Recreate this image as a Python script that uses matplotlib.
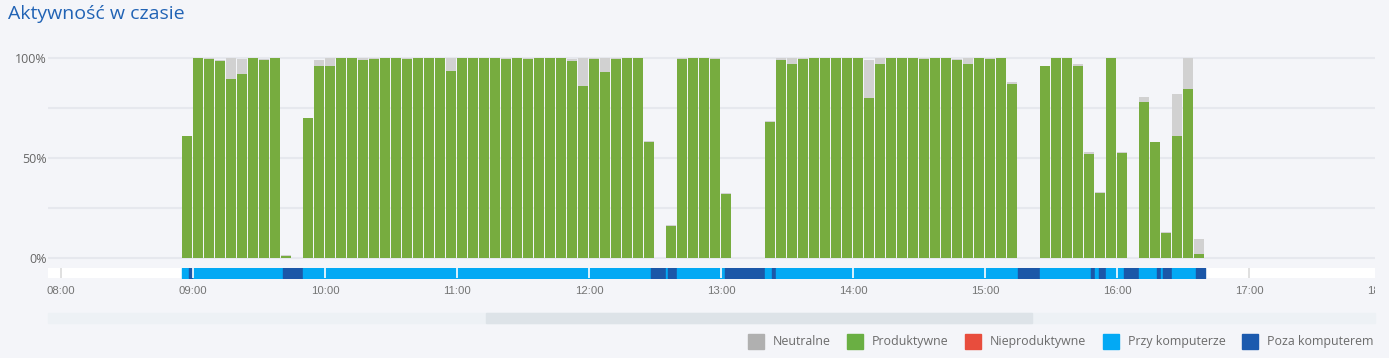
import numpy as np
import matplotlib.pyplot as plt
from matplotlib.patches import Rectangle
from matplotlib.transforms import Bbox, TransformedBbox

# --- data ---
first_bin = "08:55"
bin_minutes = 5
productive = [61, 100, 99.5, 98.5, 89.5, 92, 100, 99, 100, 1,
              0, 70, 96, 96, 100, 100, 99, 99.5, 100, 100,
              99.5, 100, 100, 100, 93.5, 100, 100, 100, 100, 99.5,
              100, 99.5, 100, 100, 100, 98.5, 86, 99.5, 93, 99.5,
              100, 100, 58, 0, 16, 99.5, 100, 100, 99.5, 32,
              0, 0, 0, 68, 99, 97, 99.5, 100, 100, 100,
              100, 100, 80, 97, 100, 100, 100, 99.5, 100, 100,
              99, 97, 100, 99.5, 100, 87, 0, 0, 96, 100,
              100, 96, 52, 32.5, 100, 52.5, 0, 78, 58, 12.7,
              61, 84.5, 2]
neutral = [0, 0, 0.5, 0.5, 10.5, 7.5, 0, 0.5, 0, 0.5,
           0, 0, 3, 4, 0, 0, 1, 0.5, 0, 0,
           0.5, 0, 0, 0, 6.5, 0, 0, 0, 0, 0.5,
           0, 0.5, 0, 0, 0, 1, 14, 0.5, 7, 0.5,
           0, 0, 0.7, 0, 0.5, 0.5, 0, 0, 0.5, 0.5,
           0, 0, 0, 0.5, 1, 3, 0.5, 0, 0, 0,
           0, 0, 19, 3, 0, 0, 0, 0.5, 0, 0,
           0.5, 3, 0, 0.5, 0, 1, 0, 0, 0, 0,
           0, 1, 1, 0.5, 0, 0.5, 0, 2.5, 0, 0.5,
           21, 15.5, 7.5]

# presence at the computer: (from, to, state)
presence = [("08:55", "08:58", "in"), ("08:58", "09:00", "out"),
            ("09:00", "09:41", "in"), ("09:41", "09:50", "out"),
            ("09:50", "12:28", "in"), ("12:28", "12:35", "out"),
            ("12:35", "12:36", "in"), ("12:36", "12:40", "out"),
            ("12:40", "13:02", "in"), ("13:02", "13:20", "out"),
            ("13:20", "13:23", "in"), ("13:23", "13:25", "out"),
            ("13:25", "15:15", "in"), ("15:15", "15:25", "out"),
            ("15:25", "15:48", "in"), ("15:48", "15:50", "out"),
            ("15:50", "15:52", "in"), ("15:52", "15:55", "out"),
            ("15:55", "16:03", "in"), ("16:03", "16:10", "out"),
            ("16:10", "16:18", "in"), ("16:18", "16:20", "out"),
            ("16:20", "16:21", "in"), ("16:21", "16:25", "out"),
            ("16:25", "16:36", "in"), ("16:36", "16:40", "out")]

hour_labels = ["08:00", "09:00", "10:00", "11:00", "12:00",
               "13:00", "14:00", "15:00", "16:00", "17:00", "18:00"]
y_labels = ["0%", "50%", "100%"]
legend_labels = ["Neutralne", "Produktywne", "Nieproduktywne",
                 "Przy komputerze", "Poza komputerem"]
legend_colors = ["#B0B0B0", "#6AAF43", "#E84D3D", "#03A9F4", "#1B5AAE"]

GREEN = "#77AC3F"
GRAY = "#D1D1D1"
LIGHT = "#03A9F4"
DARK = "#1B57A8"
BG = "#F4F5F9"

def to_min(s):
    h, m = s.split(":")
    return (int(h) - 8) * 60 + int(m)

W, H = 1389, 358
X0, X1 = -5.91, 597.3   # visible time range (minutes after 08:00)

fig = plt.figure(figsize=(W / 100, H / 100), dpi=100, facecolor=BG)

def fpos(l, t, r, b):
    return [l / W, 1 - b / H, (r - l) / W, (b - t) / H]

# --- main bar chart ---
ax = fig.add_axes(fpos(48, 56, 1375, 260))
ax.set_facecolor(BG)
starts = to_min(first_bin) + bin_minutes * np.arange(len(productive))
w = bin_minutes * 10 / 11
prod = np.array(productive)
neut = np.array(neutral)
ax.bar(starts, prod, width=w, align="edge", color=GREEN, zorder=3)
ax.bar(starts, neut, width=w, bottom=prod, align="edge", color=GRAY, zorder=3)
ax.set_xlim(X0, X1)
ax.set_ylim(-1, 101)
for g in [0, 25, 50, 75, 100]:
    ax.axhline(g, color="#E6E8EE", lw=1.5, zorder=1)
ax.set_xticks([])
ax.set_yticks([0, 50, 100])
ax.set_yticklabels(y_labels, fontsize=9, color="#666666", family="Open Sans")
ax.tick_params(axis="y", length=0, pad=1)
for s in ax.spines.values():
    s.set_visible(False)

# --- presence strip ---
sx = fig.add_axes(fpos(48, 268, 1375, 278))
sx.set_facecolor("white")
sx.set_xlim(X0, X1)
sx.set_ylim(0, 1)
for a, b, st in presence:
    sx.broken_barh([(to_min(a), to_min(b) - to_min(a))], (0, 1),
                   color=LIGHT if st == "in" else DARK, zorder=2)
for i, lab in enumerate(hour_labels):
    m = to_min(lab)
    inside = to_min(presence[0][0]) < m < to_min(presence[-1][1])
    sx.axvline(m, color="white" if inside else "#DADADA", lw=1.2, zorder=3)
sx.set_xticks([])
sx.set_yticks([])
for s in sx.spines.values():
    s.set_visible(False)

# last hour label is cut by the chart's right edge, as in the source
clip = TransformedBbox(Bbox([[0, 0], [1375 / W, 1]]), fig.transFigure)
for lab in hour_labels:
    t = sx.text(to_min(lab), -1.25, lab, ha="center", va="center",
                fontsize=8.2, color="#747474", family="Liberation Sans",
                clip_on=True)
    t.set_clip_box(clip)

# --- scrollbar ---
fig.patches.append(Rectangle((48 / W, 1 - 323 / H), (1375 - 48) / W, 10 / H,
                             transform=fig.transFigure, color="#EDF1F5"))
fig.patches.append(Rectangle((486 / W, 1 - 323 / H), (1032 - 486) / W, 10 / H,
                             transform=fig.transFigure, color="#DDE3E8"))

# --- legend ---
leg_x = [748, 847, 965, 1103, 1242]
for x, lab, c in zip(leg_x, legend_labels, legend_colors):
    fig.patches.append(Rectangle((x / W, 1 - 349 / H), 16 / W, 15 / H,
                                 transform=fig.transFigure, color=c))
    fig.text((x + 25) / W, 1 - 341.5 / H, lab, ha="left", va="center",
             fontsize=8.9, color="#6B6B6B", family="Open Sans")

# --- title ---
fig.text(8 / W, 1 - 14 / H, "Aktywność w czasie", ha="left", va="center",
         fontsize=14, color="#2163B5", family="Open Sans")

fig.savefig("out.png", dpi=100, facecolor=BG)
